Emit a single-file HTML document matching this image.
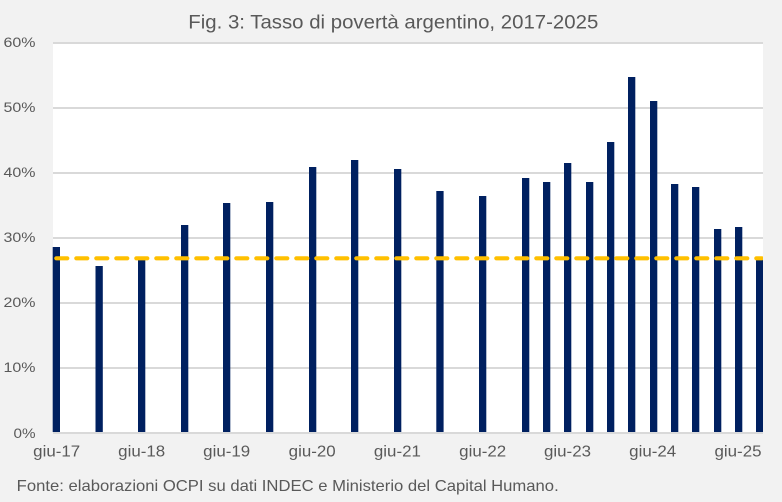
<!DOCTYPE html>
<html><head><meta charset="utf-8"><style>
html,body{margin:0;padding:0;background:#f2f2f2;}
svg{display:block;}
text{font-family:"Liberation Sans",sans-serif;fill:#595959;}
</style></head><body>
<svg width="782" height="502" viewBox="0 0 782 502" xmlns="http://www.w3.org/2000/svg">
<rect x="0" y="0" width="782" height="502" fill="#f2f2f2"/>
<text x="188.3" y="28.5" font-size="19.5" textLength="410" lengthAdjust="spacingAndGlyphs">Fig. 3: Tasso di povertà argentino, 2017-2025</text>
<rect x="53" y="43" width="710" height="390" fill="#ffffff"/>
<g stroke="#d9d9d9" stroke-width="2">
<line x1="53" y1="43" x2="763" y2="43"/>
<line x1="53" y1="108" x2="763" y2="108"/>
<line x1="53" y1="173" x2="763" y2="173"/>
<line x1="53" y1="238" x2="763" y2="238"/>
<line x1="53" y1="303" x2="763" y2="303"/>
<line x1="53" y1="368" x2="763" y2="368"/>
<line x1="53" y1="433" x2="763" y2="433"/>
</g>
<g fill="#002060">
<rect x="52.7" y="247" width="7.3" height="185"/>
<rect x="95.5" y="266" width="7.3" height="166"/>
<rect x="138" y="260" width="7.3" height="172"/>
<rect x="181" y="225" width="7.3" height="207"/>
<rect x="223" y="203" width="7.3" height="229"/>
<rect x="266" y="202" width="7.3" height="230"/>
<rect x="309" y="167" width="7.3" height="265"/>
<rect x="351" y="160" width="7.3" height="272"/>
<rect x="394" y="169" width="7.3" height="263"/>
<rect x="436.3" y="191" width="7.3" height="241"/>
<rect x="479" y="196" width="7.3" height="236"/>
<rect x="522" y="178" width="7.3" height="254"/>
<rect x="543" y="182" width="7.3" height="250"/>
<rect x="564" y="163" width="7.3" height="269"/>
<rect x="586" y="182" width="7.3" height="250"/>
<rect x="607" y="142" width="7.3" height="290"/>
<rect x="628" y="77" width="7.3" height="355"/>
<rect x="650" y="101" width="7.3" height="331"/>
<rect x="671" y="184" width="7.3" height="248"/>
<rect x="692" y="187" width="7.3" height="245"/>
<rect x="714" y="229" width="7.3" height="203"/>
<rect x="735" y="227" width="7.3" height="205"/>
<rect x="756" y="258" width="7" height="174"/>
</g>
<defs><clipPath id="pc"><rect x="53" y="40" width="710" height="400"/></clipPath></defs>
<line x1="56.3" y1="258.3" x2="762" y2="258.3" stroke="#ffc000" stroke-width="4.2" stroke-linecap="round" stroke-dasharray="11 9" clip-path="url(#pc)"/>
<g font-size="13.5" text-anchor="end">
<text x="35.5" y="47" textLength="32" lengthAdjust="spacingAndGlyphs">60%</text>
<text x="35.5" y="112" textLength="32" lengthAdjust="spacingAndGlyphs">50%</text>
<text x="35.5" y="177" textLength="32" lengthAdjust="spacingAndGlyphs">40%</text>
<text x="35.5" y="242" textLength="32" lengthAdjust="spacingAndGlyphs">30%</text>
<text x="35.5" y="307" textLength="32" lengthAdjust="spacingAndGlyphs">20%</text>
<text x="35.5" y="372" textLength="32" lengthAdjust="spacingAndGlyphs">10%</text>
<text x="35.5" y="437.8" textLength="22" lengthAdjust="spacingAndGlyphs">0%</text>
</g>
<g font-size="15.5" text-anchor="middle">
<text x="56.7" y="456.5" textLength="47" lengthAdjust="spacingAndGlyphs">giu-17</text>
<text x="141.7" y="456.5" textLength="47" lengthAdjust="spacingAndGlyphs">giu-18</text>
<text x="226.7" y="456.5" textLength="47" lengthAdjust="spacingAndGlyphs">giu-19</text>
<text x="312.2" y="456.5" textLength="47" lengthAdjust="spacingAndGlyphs">giu-20</text>
<text x="397.4" y="456.5" textLength="47" lengthAdjust="spacingAndGlyphs">giu-21</text>
<text x="482.7" y="456.5" textLength="47" lengthAdjust="spacingAndGlyphs">giu-22</text>
<text x="567.5" y="456.5" textLength="47" lengthAdjust="spacingAndGlyphs">giu-23</text>
<text x="652.7" y="456.5" textLength="47" lengthAdjust="spacingAndGlyphs">giu-24</text>
<text x="738" y="456.5" textLength="47" lengthAdjust="spacingAndGlyphs">giu-25</text>
</g>
<text x="16.7" y="491" font-size="16" textLength="542" lengthAdjust="spacingAndGlyphs">Fonte: elaborazioni OCPI su dati INDEC e Ministerio del Capital Humano.</text>
</svg>
</body></html>
